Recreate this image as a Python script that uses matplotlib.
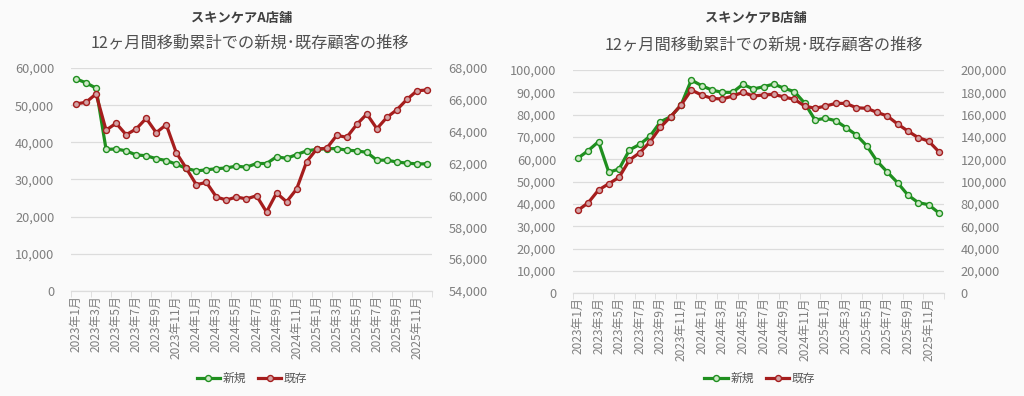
import matplotlib
matplotlib.use("Agg")
import matplotlib.pyplot as plt
from matplotlib.ticker import FuncFormatter, MultipleLocator, FixedLocator
from matplotlib.lines import Line2D

plt.rcParams['font.family'] = ['Noto Sans CJK JP', 'DejaVu Sans']

# 2023年1月 .. 2025年12月
months = [f"{y}年{m}月" for y in (2023, 2024, 2025) for m in range(1, 13)]

# スキンケアA店舗 (新規: left axis, 既存: right axis)
a_new = [57100, 56000, 54600, 38100, 38200, 37700, 36600, 36400, 35600, 35100,
         34100, 33000, 32300, 32600, 32900, 33100, 33600, 33300, 34300, 34300,
         36100, 35700, 36700, 37700, 38100, 38300, 38300, 37900, 37700, 37300,
         35200, 35200, 34700, 34400, 34200, 34200]
a_old = [65740, 65850, 66370, 64100, 64530, 63810, 64170, 64840, 63940, 64440,
         62680, 61700, 60670, 60820, 59900, 59710, 59900, 59780, 59980, 58960,
         60150, 59600, 60400, 62120, 62910, 62960, 63770, 63650, 64460, 65110,
         64190, 64900, 65380, 66030, 66570, 66620]

# スキンケアB店舗 (新規: left axis, 既存: right axis)
b_new = [60500, 63900, 67900, 54200, 55700, 64200, 66700, 70400, 76800, 79100,
         84300, 95500, 93000, 91000, 90000, 90000, 93600, 91500, 92500, 93700,
         91800, 90300, 85100, 77600, 78400, 77300, 74200, 70900, 66100, 59200,
         54300, 49500, 44000, 40600, 39700, 36000]
b_old = [74300, 81100, 92500, 98200, 103900, 119400, 125900, 135800, 148700, 158200,
         168600, 182100, 177600, 174600, 174000, 176700, 180000, 176700, 177600, 178200,
         175800, 173700, 167700, 165700, 167700, 170100, 170100, 166200, 165700, 162100,
         158800, 151600, 145300, 139400, 136400, 126800]

GREEN = '#1f8f1f'
GREEN_FILL = '#cfe8c8'
RED = '#a51d1d'
RED_FILL = '#d3a3a5'
TICK = '#7f7f7f'
GRID = '#dcdcdc'
BG = '#fafafa'
MS = 4.3
LW = 2.3

fmt = FuncFormatter(lambda v, p: f"{int(v):,}")

fig = plt.figure(figsize=(10.24, 3.96), dpi=100, facecolor=BG)


def draw(rect, new, old, lmax, lstep, rmin, rmax, rstep, title, cx, ty, sy, lx):
    ax = fig.add_axes(rect)
    ax.set_facecolor(BG)
    ax2 = ax.twinx()
    x = list(range(len(months)))
    ax.plot(x, new, color=GREEN, lw=LW, marker='o', ms=MS,
            mfc=GREEN_FILL, mec=GREEN, mew=1.0, zorder=3)
    ax2.plot(x, old, color=RED, lw=LW, marker='o', ms=MS,
             mfc=RED_FILL, mec=RED, mew=1.0, zorder=3)
    ax.set_xlim(-0.5, len(months) - 0.5)
    ax.set_ylim(0, lmax)
    ax2.set_ylim(rmin, rmax)
    ax.yaxis.set_major_locator(MultipleLocator(lstep))
    ax2.yaxis.set_major_locator(MultipleLocator(rstep))
    ax.yaxis.set_major_formatter(fmt)
    ax2.yaxis.set_major_formatter(fmt)
    ax.grid(axis='y', color=GRID, lw=0.9)
    ax.set_axisbelow(True)
    for a in (ax, ax2):
        for s in ('top', 'left', 'right'):
            a.spines[s].set_visible(False)
        a.spines['bottom'].set_color(GRID)
        a.tick_params(axis='y', length=0, colors=TICK, labelsize=9.2, pad=12)
    ax.set_xticks(x[::2])
    ax.set_xticklabels(months[::2], rotation=90, fontsize=8.6, color=TICK)
    ax.tick_params(axis='x', which='major', length=0, pad=3)
    ax.xaxis.set_minor_locator(FixedLocator([i - 0.5 for i in range(0, len(months) + 1, 2)]))
    ax.tick_params(axis='x', which='minor', length=4, color=GRID)

    fig.text(cx, ty, title, ha='center', va='center', fontsize=9.5,
             fontweight='bold', color='#404040')
    fig.text(cx + 0.008, sy, "12ヶ月間移動累計での新規･既存顧客の推移", ha='center',
             va='center', fontsize=11.7, color='#505050')

    handles = [Line2D([], [], color=GREEN, lw=LW, marker='o', ms=MS,
                      mfc=GREEN_FILL, mec=GREEN),
               Line2D([], [], color=RED, lw=LW, marker='o', ms=MS,
                      mfc=RED_FILL, mec=RED)]
    leg = fig.legend(handles, ['新規', '既存'], loc='center', bbox_to_anchor=(lx, 0.045),
                     ncol=2, frameon=False, fontsize=8.5, handlelength=2.0,
                     handletextpad=0.2, columnspacing=1.0)
    for t in leg.get_texts():
        t.set_color('#595959')


draw([0.0693, 0.2652, 0.3526, 0.5631], a_new, a_old, 60000, 10000, 54000, 68000, 2000,
     "スキンケアA店舗", 0.236, 0.955, 0.892, 0.246)
draw([0.5593, 0.2593, 0.3626, 0.5639], b_new, b_old, 100000, 10000, 0, 200000, 20000,
     "スキンケアB店舗", 0.738, 0.955, 0.886, 0.742)

fig.savefig("out.png", dpi=100, facecolor=BG)
